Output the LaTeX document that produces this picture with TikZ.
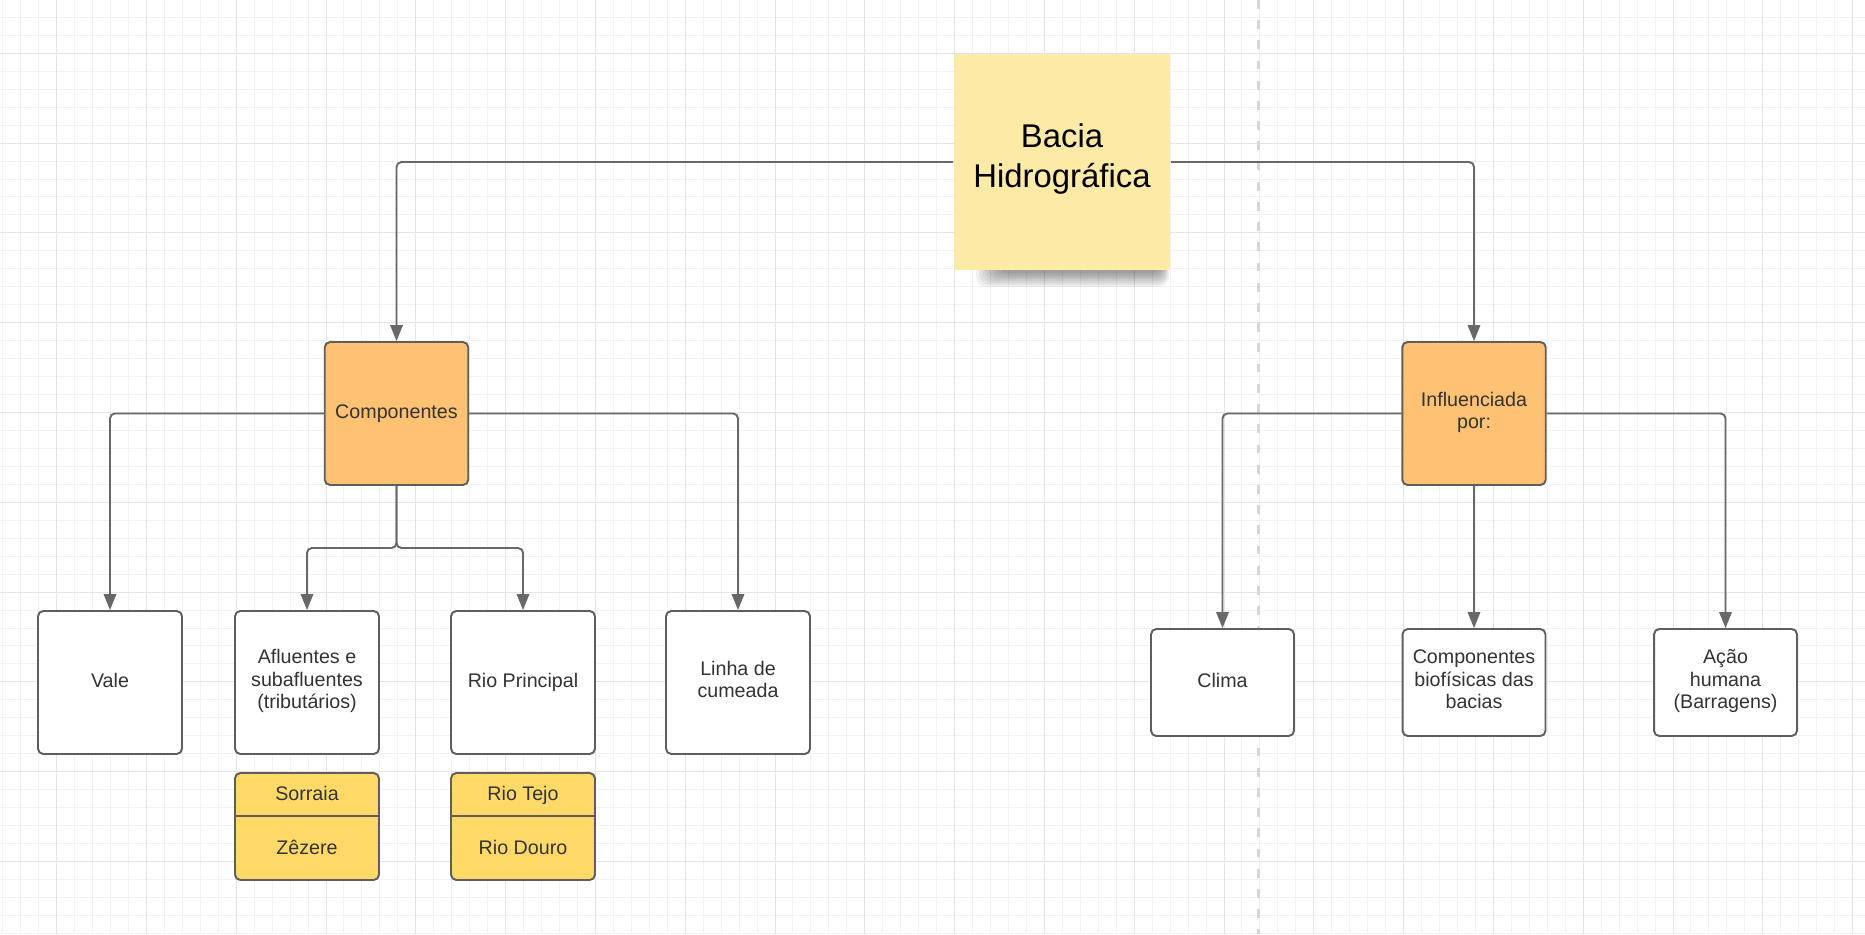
\documentclass[tikz,border=0pt]{standalone}
\usepackage{fontspec}
\setmainfont{Liberation Sans}
\usepackage{xcolor}
\usetikzlibrary{arrows.meta}

\definecolor{notecolor}{RGB}{254,234,167}
\definecolor{orangebox}{RGB}{255,193,114}
\definecolor{yellowbox}{RGB}{255,217,104}
\definecolor{borderline}{RGB}{94,94,94}
\definecolor{arrowline}{RGB}{104,104,104}
\definecolor{textgray}{RGB}{51,51,51}
\definecolor{gridminor}{RGB}{242,242,242}
\definecolor{gridmajor}{RGB}{228,228,228}
\definecolor{dividerline}{RGB}{214,214,214}

\begin{document}
\begin{tikzpicture}[x=0.02cm, y=-0.02cm,
  box/.style={draw=borderline, line width=1.1pt, rounded corners=3pt, fill=white, text=textgray, align=center, font=\fontsize{11.2}{12.8}\selectfont, inner sep=2pt, execute at begin node=\strut, execute at end node=\strut},
  topic/.style={box, fill=orangebox, minimum width=2.87cm, minimum height=2.86cm},
  leaf/.style={box, minimum width=2.88cm, minimum height=2.86cm},
  factor/.style={box, minimum width=2.86cm, minimum height=2.14cm},
  sublist/.style={box, fill=yellowbox, minimum width=2.88cm, minimum height=2.14cm},
  itemtext/.style={text=textgray, font=\fontsize{11.2}{12.8}\selectfont, execute at begin node=\strut},
  link/.style={draw=arrowline, line width=1.1pt, rounded corners=2.8pt, -{Triangle[length=9pt,width=7pt]}}
]
\useasboundingbox (0,0) rectangle (1865,934);
\fill[white] (0,0) rectangle (1865,934);

\foreach \i in {0,...,103} \draw[gridminor, line width=0.55pt] ({2.7+17.96*\i},0) -- ({2.7+17.96*\i},934);
\foreach \j in {1,...,52} \draw[gridminor, line width=0.55pt] (0,{-0.6+17.96*\j}) -- (1865,{-0.6+17.96*\j});
\foreach \i in {0,...,20} \draw[gridmajor, line width=0.55pt] ({56.7+89.8*\i},0) -- ({56.7+89.8*\i},934);
\foreach \j in {0,...,9} \draw[gridmajor, line width=0.55pt] (0,{53.3+89.8*\j}) -- (1865,{53.3+89.8*\j});

\draw[dividerline, line width=1.7pt, dash pattern=on 5pt off 6.5pt] (1258,0) -- (1258,934);

\foreach \k in {0,...,7}
  \fill[black, opacity=0.055, rounded corners=6pt] ({976+3*\k},250) rectangle ({1169-\k},{287-2*\k});
\node[box, fill=notecolor, draw=none, rounded corners=0pt, minimum width=4.32cm, minimum height=4.32cm, text=black, font=\fontsize{18.7}{22.8}\selectfont] (bacia) at (1062,162) {Bacia\\Hidrográfica};

\node[topic] (componentes) at (396.5,413.5) {Componentes};
\node[topic] (influencia) at (1474,413.5) {Influenciada\\por:};

\node[leaf] (vale) at (110,682.5) {Vale};
\node[leaf] (afluentes) at (307,682.5) {Afluentes e\\subafluentes\\(tributários)};
\node[leaf] (rioprincipal) at (523,682.5) {Rio Principal};
\node[leaf] (linha) at (738,682.5) {Linha de\\cumeada};

\node[factor] (clima) at (1222.5,682.5) {Clima};
\node[factor] (biofisicas) at (1474,682.5) {Componentes\\biofísicas das\\bacias};
\node[factor] (acao) at (1725.5,682.5) {Ação\\humana\\(Barragens)};

\node[sublist] (afluenteslist) at (307,826.5) {};
\node[itemtext] (sorraia) at (307,795.5) {Sorraia};
\node[itemtext] (zezere) at (307,849.5) {Zêzere};
\draw[borderline, line width=1.1pt] (afluenteslist.west |- 0,816) -- (afluenteslist.east |- 0,816);

\node[sublist] (rioslist) at (523,826.5) {};
\node[itemtext] (tejo) at (523,795.5) {Rio Tejo};
\node[itemtext] (douro) at (523,849.5) {Rio Douro};
\draw[borderline, line width=1.1pt] (rioslist.west |- 0,816) -- (rioslist.east |- 0,816);

\draw[link] (bacia.west) -| (componentes.north);
\draw[link] (bacia.east) -| (influencia.north);

\coordinate (split) at (396.5,548);
\draw[link] (componentes.west) -| (vale.north);
\draw[link] (componentes.east) -| (linha.north);
\draw[link] (componentes.south) -- (split) -| (afluentes.north);
\draw[link] (componentes.south) -- (split) -| (rioprincipal.north);

\draw[link] (influencia.west) -| (clima.north);
\draw[link] (influencia.south) -- (biofisicas.north);
\draw[link] (influencia.east) -| (acao.north);
\end{tikzpicture}
\end{document}
